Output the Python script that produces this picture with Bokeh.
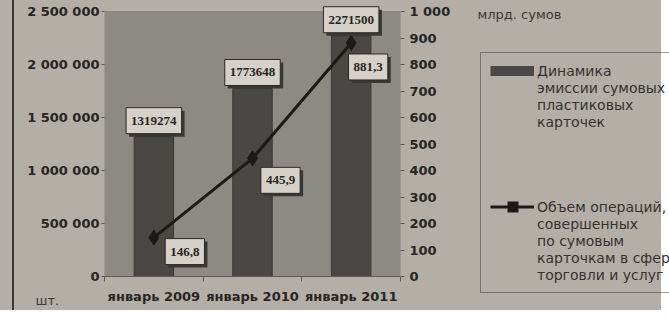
import numpy as np
from bokeh.plotting import figure
from bokeh.layouts import row
from bokeh.models import (Range1d, LinearAxis, FixedTicker, Label, BoxAnnotation,
                          Legend, LegendItem)
from bokeh.embed import file_html
from bokeh.resources import INLINE

# ---------------- data ----------------
categories = ["январь 2009", "январь 2010", "январь 2011"]
cards = [1319274, 1773648, 2271500]          # шт.
operations = [146.8, 445.9, 881.3]           # млрд. сумов
card_labels = ["1319274", "1773648", "2271500"]
op_labels = ["146,8", "445,9", "881,3"]
left_ticks = [0, 500000, 1000000, 1500000, 2000000, 2500000]
left_tick_labels = ["0", "500 000", "1 000 000", "1 500 000", "2 000 000", "2 500 000"]
right_ticks = [0, 100, 200, 300, 400, 500, 600, 700, 800, 900, 1000]
right_tick_labels = ["0", "100", "200", "300", "400", "500", "600", "700", "800", "900", "1 000"]
legend_bar_lines = ["Динамика", "эмиссии сумовых", "пластиковых", "карточек"]
legend_line_lines = ["Объем операций,", "совершенных", "по сумовым", "карточкам в сфере", "торговли и услуг"]
unit_left = "шт."
unit_right = "млрд. сумов"
left_max = 2500000
right_max = 1000

# ---------------- layout / style ----------------
H = 310
MAIN_W = 453
LEG_W = 661 - MAIN_W
ML, MR, MB = 103, 52, 34
FRAME_H = H - MB            # frame reaches the top of the canvas
PLOT_H = 265                # height of the grey plot area
PAPER = "#b3afa6"
AREA = "#8d8a83"
BAR = "#4a4845"
INK = "#262523"
BOXFILL = "#d5d1c8"
SHADOW = "#3a3836"
EDGE = "#5e5b55"
RULE = "#3a3836"
op_label_offsets = [(31, -14), (28, -22), (17, -24)]
axis_font = "DejaVu Sans"
label_font = "Liberation Serif"

xs = np.arange(len(categories)) + 0.5

# ---------------- main chart ----------------
p = figure(width=MAIN_W, height=H, output_backend="svg", toolbar_location=None,
           x_range=Range1d(0, len(categories)),
           y_range=Range1d(0, left_max * FRAME_H / PLOT_H),
           min_border_left=ML, min_border_right=MR, min_border_top=0,
           min_border_bottom=MB)
p.background_fill_color = PAPER
p.border_fill_color = None
p.outline_line_color = None
p.xgrid.visible = False
p.ygrid.visible = False
p.extra_y_ranges = {"right": Range1d(0, right_max * FRAME_H / PLOT_H)}

# grey plot area
p.add_layout(BoxAnnotation(left=0, right=len(categories), bottom=0, top=left_max,
                           fill_color=AREA, fill_alpha=1, line_color=EDGE,
                           line_width=1, level="underlay"))


def style_axis(ax, size="13px"):
    ax.major_label_text_font = axis_font
    ax.major_label_text_font_style = "bold"
    ax.major_label_text_font_size = size
    ax.major_label_text_color = INK


ya = p.yaxis[0]
ya.ticker = FixedTicker(ticks=left_ticks)
ya.major_label_overrides = {t: s for t, s in zip(left_ticks, left_tick_labels)}
ya.major_tick_out = 3
ya.major_tick_in = 0
ya.minor_tick_line_color = None
ya.major_label_standoff = 2
ya.major_tick_line_color = EDGE
ya.axis_line_color = None
style_axis(ya)

ra = LinearAxis(y_range_name="right", ticker=FixedTicker(ticks=right_ticks))
ra.major_label_overrides = {t: s for t, s in zip(right_ticks, right_tick_labels)}
ra.major_tick_out = 4
ra.major_tick_in = 0
ra.minor_tick_line_color = None
ra.major_label_standoff = 5
ra.major_tick_line_color = EDGE
ra.axis_line_color = None
style_axis(ra)
p.add_layout(ra, "right")

xa = p.xaxis[0]
xa.ticker = FixedTicker(ticks=list(xs), minor_ticks=list(range(len(categories) + 1)))
xa.major_label_overrides = {float(x): c for x, c in zip(xs, categories)}
xa.major_tick_line_color = None
xa.major_tick_out = 0
xa.minor_tick_out = 5
xa.minor_tick_in = 0
xa.minor_tick_line_color = EDGE
xa.axis_line_color = EDGE
xa.major_label_standoff = 7
style_axis(xa)

# bars
p.vbar(x=xs, top=cards, width=0.4, fill_color=BAR, line_color="#3a3836")

# line
p.line(xs, operations, y_range_name="right", line_color="#1b1a19", line_width=3)
p.scatter(xs, operations, y_range_name="right", marker="diamond", size=15,
          fill_color="#1b1a19", line_color="#1b1a19")

PAD = dict(left=5, right=5, top=9, bottom=9)


def boxed(x, y, text, xo, yo, align, baseline, yrn="default"):
    sh = Label(x=x, y=y, text=text, x_offset=xo + 3, y_offset=yo - 3,
               y_range_name=yrn, text_align=align, text_baseline=baseline,
               text_font=label_font, text_font_style="bold", text_font_size="13px",
               text_color=SHADOW, background_fill_color=SHADOW, padding=PAD)
    lb = Label(x=x, y=y, text=text, x_offset=xo, y_offset=yo,
               y_range_name=yrn, text_align=align, text_baseline=baseline,
               text_font=label_font, text_font_style="bold", text_font_size="13px",
               text_color=INK, background_fill_color=BOXFILL,
               border_line_color="#2a2927", border_line_width=1, padding=PAD)
    p.add_layout(sh)
    p.add_layout(lb)


for x, v, t in zip(xs, cards, card_labels):
    boxed(x, v, t, 0, 3, "center", "bottom")

for x, v, t, (dx, dy) in zip(xs, operations, op_labels, op_label_offsets):
    boxed(x, v, t, dx, dy, "center", "middle", "right")

# unit of the left axis (side panel, left of the tick labels)
p.add_layout(Label(x=35, y=-24, x_units="screen", y_units="screen",
                   text=unit_left, text_font=axis_font, text_font_size="13px",
                   text_color="#3a3836", text_baseline="middle"), "left")

# ---------------- legend panel ----------------
pg = figure(width=LEG_W, height=H, output_backend="svg", toolbar_location=None,
            x_range=Range1d(0, 1), y_range=Range1d(0, 1),
            x_axis_type=None, y_axis_type=None, min_border=0)
pg.background_fill_color = None
pg.border_fill_color = None
pg.outline_line_color = None
pg.grid.visible = False

# legend swatches (their own points lie outside the visible range)
hide_x, hide_y = [-10, -9], [-10, -9]
sw_bar = pg.line(hide_x, hide_y, line_color=BAR, line_width=10)
sw_line = pg.line(hide_x, hide_y, line_color="#1b1a19", line_width=3)
sw_mark = pg.line(hide_x, hide_y, line_color="#1b1a19", line_width=11,
                  line_dash="0 17 11 100")
sw_none = pg.line(hide_x, hide_y, line_alpha=0)

items = [LegendItem(label=legend_bar_lines[0], renderers=[sw_bar])]
items += [LegendItem(label=t, renderers=[sw_none]) for t in legend_bar_lines[1:]]
items += [LegendItem(label=" ", renderers=[sw_none]) for _ in range(4)]
items += [LegendItem(label=legend_line_lines[0], renderers=[sw_line, sw_mark])]
items += [LegendItem(label=t, renderers=[sw_none]) for t in legend_line_lines[1:]]

legend = Legend(items=items, location=(27, -17), margin=0, padding=9, spacing=0,
                glyph_width=44, glyph_height=17, label_height=17, label_standoff=3,
                label_text_font=axis_font, label_text_font_size="14px",
                label_text_color="#333230", border_line_color="#3a3836",
                border_line_width=1.2, background_fill_alpha=0)
pg.add_layout(legend, "left")

pg.add_layout(Label(x=-184, y=277, x_units="screen", y_units="screen",
                    text=unit_right, text_font=axis_font, text_font_size="13px",
                    text_color="#3a3836", text_baseline="middle"), "below")

layout = row(p, pg, styles={
    "background": "linear-gradient(to right, %s 12px, %s 12px, %s 14px, %s 14px)"
                  % (PAPER, RULE, RULE, PAPER)})
open("out.html", "w").write(file_html(layout, INLINE))
